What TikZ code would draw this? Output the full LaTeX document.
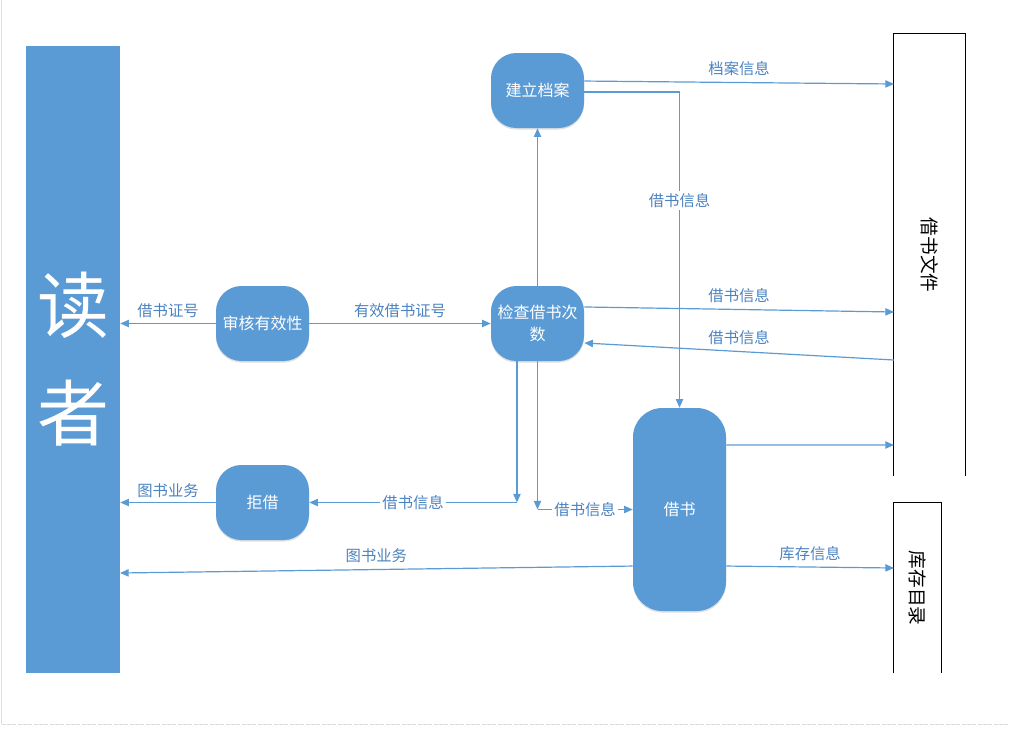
\documentclass[tikz,border=0pt]{standalone}
\usepackage{fontspec}
\setmainfont{Noto Sans CJK SC}
\usetikzlibrary{arrows.meta,shadows,calc}
\definecolor{boxblue}{HTML}{5B9BD5}
\definecolor{lineblue}{HTML}{5B9BD5}
\definecolor{labblue}{HTML}{4A82C0}
\begin{document}
\begin{tikzpicture}[x=0.75pt,y=-0.75pt,
  proc/.style={draw=none,fill=boxblue,rounded corners=19pt,minimum width=69.75pt,minimum height=56.25pt,inner sep=0pt,text=white,font=\fontsize{12pt}{16pt}\selectfont,align=center,
    drop shadow={shadow xshift=0pt,shadow yshift=-1.2pt,opacity=0.25,fill=gray}},
  arr/.style={draw=lineblue,line width=0.9pt,-{Triangle[length=6.5pt,width=5.5pt]}},
  ln/.style={draw=lineblue,line width=0.9pt},
  lab/.style={text=labblue,font=\fontsize{11.5pt}{14pt}\selectfont,inner sep=1.5pt},
  filetxt/.style={font=\fontsize{14pt}{16pt}\selectfont,rotate=-90},
  filebox/.style={draw=black,line width=0.75pt}]
\useasboundingbox (0,0) rectangle (1009,729);
% faint page border
\draw[gray!25,line width=0.6pt] (1.5,0) -- (1.5,724);
\draw[gray!30,line width=0.6pt,dash pattern=on 3pt off 1pt] (1.5,724) -- (1009,724);

% reader
\node[fill=boxblue,minimum width=70.5pt,minimum height=470.25pt,inner sep=0pt,text=white,align=center,font=\fontsize{54pt}{81pt}\selectfont] (reader) at (73,359.5) {读\\者};

% processes
\node[proc] (sh) at (262.5,323.5) {审核有效性};
\node[proc] (jc) at (537.5,323.5) {检查借书次\\数};
\node[proc] (jl) at (537.5,90.5) {建立档案};
\node[proc] (jj) at (262.5,502.5) {拒借};
\node[proc,minimum height=152.25pt,rounded corners=22pt] (jsh) at (679.5,509.5) {借书};

% data stores
\node[minimum width=53.25pt,minimum height=331.5pt,inner sep=0pt] (jf) at (929.5,255) {};
\draw[filebox] (jf.south west) -- (jf.north west) -- (jf.north east) -- (jf.south east);
\node[filetxt] (jft) at (930,255) {借书文件};
\node[minimum width=35.25pt,minimum height=127.5pt,inner sep=0pt] (kc) at (917.5,588) {};
\draw[filebox] (kc.south west) -- (kc.north west) -- (kc.north east) -- (kc.south east);
\node[filetxt] (kct) at (918,588) {库存目录};

% endpoints on stores
\coordinate (f1) at (894,84);
\coordinate (f2) at (894,312);
\coordinate (f3) at (894,360);
\coordinate (f4) at (894,445);
\coordinate (k1) at (894,568);
\coordinate (r1) at (120,573);

% connectors
\draw[arr] (sh.west) -- node[lab,above=2pt]{借书证号} (reader.east |- sh.west);
\draw[arr] (sh.east) -- node[lab,above=2pt]{有效借书证号} (jc.west);
\draw[arr] (jc.north) -- (jl.south);
\draw[arr] ([yshift=7.1pt]jl.east) -- node[lab,above=3pt]{档案信息} (f1);
\draw[arr] ([yshift=-1.1pt]jl.east) -| node[lab,fill=white,pos=0.672]{借书信息} (jsh.north);
\draw[arr] ([yshift=12.4pt]jc.east) -- node[lab,above=3pt]{借书信息} (f2);
\draw[arr] (f3) -- node[lab,above=3pt]{借书信息} ([yshift=-14.6pt]jc.east);
\coordinate (c1) at ([xshift=-15.4pt]jc.south |- jj.east);
\draw[arr] ([xshift=-15.4pt]jc.south) -- (c1);
\draw[arr] (c1) -- node[lab,fill=white]{借书信息} (jj.east);
\coordinate (c2) at (jc.south |- jsh.west);
\draw[arr] (jc.south) -- (c2);
\draw[arr] (c2) -- node[lab,fill=white]{借书信息} (jsh.west);
\draw[arr] ([yshift=48.4pt]jsh.east) -- (f4);
\draw[arr] ([yshift=-42.4pt]jsh.west) -- node[lab,above=3pt]{图书业务} (r1);
\draw[arr] ([yshift=-42.4pt]jsh.east) -- node[lab,above=3pt]{库存信息} (k1);
\draw[arr] (jj.west) -- node[lab,above=2pt]{图书业务} (reader.east |- jj.west);
\end{tikzpicture}
\end{document}
